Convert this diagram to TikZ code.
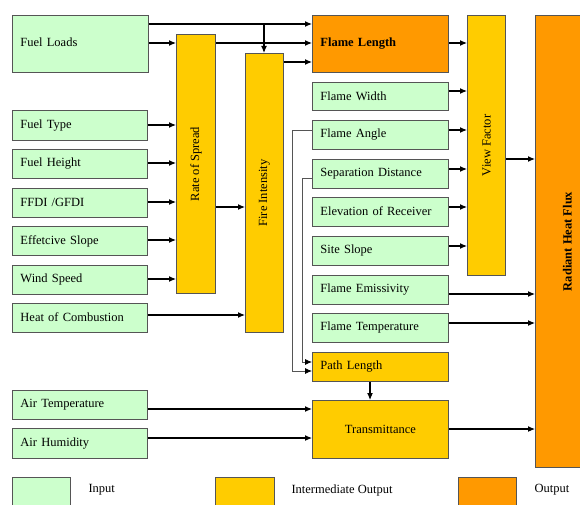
\documentclass[tikz,border=0pt]{standalone}
\usepackage{fontspec}
\setmainfont{Liberation Serif}
\usetikzlibrary{arrows.meta}
\definecolor{ingreen}{HTML}{CCFFCC}
\definecolor{midyel}{HTML}{FFCC00}
\definecolor{outor}{HTML}{FF9900}
\definecolor{edgegray}{HTML}{555555}
\tikzset{
  box/.style={draw=edgegray, line width=0.9pt, anchor=north west, inner sep=0pt,
    font=\fontsize{12.5}{14}\selectfont},
  inp/.style={box, fill=ingreen},
  mid/.style={box, fill=midyel},
  outp/.style={box, fill=outor},
  lbox/.style={align=left, inner xsep=8pt, text width=#1},
  arr/.style={line width=1.1pt, -{Latex[length=7pt,width=6pt]}},
  garr/.style={line width=0.8pt, draw=edgegray, -{Latex[length=7pt,width=6pt,fill=black,color=black]}},
  leg/.style={font=\fontsize{12.5}{14}\selectfont, anchor=west}
}
\begin{document}
\begin{tikzpicture}[x=1pt,y=-1pt]
\useasboundingbox (0,0) rectangle (580,505);
\clip (0,0) rectangle (580,505);
% left inputs
\node[inp, lbox=120pt, minimum height=57pt] (fl) at (12,15) {\raisebox{3pt}{Fuel Loads}};
\node[inp, lbox=119pt, minimum height=30pt] (ft) at (12,110) {\raisebox{1pt}{Fuel Type}};
\node[inp, lbox=119pt, minimum height=29pt] (fh) at (12,149) {\raisebox{1pt}{Fuel Height}};
\node[inp, lbox=119pt, minimum height=29pt] (ff) at (12,188) {\raisebox{1pt}{FFDI /GFDI}};
\node[inp, lbox=119pt, minimum height=29pt] (es) at (12,226) {\raisebox{1pt}{Effetcive Slope}};
\node[inp, lbox=119pt, minimum height=29pt] (ws) at (12,265) {\raisebox{1pt}{Wind Speed}};
\node[inp, lbox=119pt, minimum height=29pt] (hc) at (12,303) {\raisebox{1pt}{Heat of Combustion}};
\node[inp, lbox=119pt, minimum height=29pt] (at) at (12,390) {\raisebox{2pt}{Air Temperature}};
\node[inp, lbox=119pt, minimum height=30pt] (ah) at (12,428) {\raisebox{2pt}{Air Humidity}};
% intermediate columns
\node[mid, minimum width=39pt, minimum height=259pt] (ros) at (176,34) {};
\node[rotate=90, font=\fontsize{12.5}{14}\selectfont] at (ros.center) {Rate of Spread};
\node[mid, minimum width=38pt, minimum height=279pt] (fi) at (245,53) {};
\node[rotate=90, font=\fontsize{12.5}{14}\selectfont] at (fi.center) {Fire Intensity};
% middle column
\node[outp, lbox=120pt, minimum height=57pt, font=\fontsize{12.5}{14}\selectfont\bfseries] (flen) at (312,15) {Flame Length};
\node[inp, lbox=120pt, minimum height=28pt] (fw) at (312,82) {\raisebox{1pt}{Flame Width}};
\node[inp, lbox=120pt, minimum height=29pt] (fa) at (312,120) {\raisebox{1pt}{Flame Angle}};
\node[inp, lbox=120pt, minimum height=29pt] (sd) at (312,159) {\raisebox{1pt}{Separation Distance}};
\node[inp, lbox=120pt, minimum height=29pt] (er) at (312,197) {\raisebox{1pt}{Elevation of Receiver}};
\node[inp, lbox=120pt, minimum height=29pt] (ss) at (312,236) {\raisebox{1pt}{Site Slope}};
\node[inp, lbox=120pt, minimum height=29pt] (fe) at (312,275) {\raisebox{1pt}{Flame Emissivity}};
\node[inp, lbox=120pt, minimum height=29pt] (ftemp) at (312,313) {\raisebox{1pt}{Flame Temperature}};
\node[mid, lbox=120pt, minimum height=29pt] (pl) at (312,352) {\raisebox{1pt}{Path Length}};
\node[mid, minimum width=136pt, minimum height=58pt] (tr) at (312,400) {Transmittance};
% right columns
\node[mid, minimum width=38pt, minimum height=260pt] (vf) at (467,15) {};
\node[rotate=90, font=\fontsize{12.5}{14}\selectfont] at (vf.center) {View Factor};
\node[outp, minimum width=66pt, minimum height=452pt] (rhf) at (535,15) {};
\node[rotate=90, font=\fontsize{12.5}{14}\selectfont\bfseries] at ([xshift=-1pt]rhf.center) {Radiant Heat Flux};
% legend
\node[inp, minimum width=58pt, minimum height=35pt] (lg1) at (12,477) {};
\node[leg] (lt1) at (85,490) {Input};
\node[mid, minimum width=59pt, minimum height=35pt] (lg2) at (215,477) {};
\node[leg] (lt2) at (288,490) {Intermediate Output};
\node[outp, minimum width=58pt, minimum height=35pt] (lg3) at (458,477) {};
\node[leg] (lt3) at (531,490) {Output};
% connectors: fuel loads
\coordinate (br) at (264,24);
\draw[arr] (fl.east |- 0,24) -- (flen.west |- 0,24);
\draw[arr] (br) -- (br |- fi.north);
\draw[arr] (fl.east |- 0,43) -- (ros.west |- 0,43);
\draw[arr] (ros.east |- 0,43) -- (flen.west |- 0,43);
\draw[arr] (fi.east |- 0,62) -- (flen.west |- 0,62);
% inputs to rate of spread
\foreach \n/\y in {ft/125, fh/163, ff/202, es/240, ws/279}
  \draw[arr] (\n.east |- 0,\y) -- (ros.west |- 0,\y);
\draw[arr] (ros.east |- 0,207) -- (fi.west |- 0,207);
\draw[arr] (hc.east |- 0,315) -- (fi.west |- 0,315);
% to view factor
\foreach \n/\y in {flen/43, fw/91, fa/130, sd/169, er/207, ss/246}
  \draw[arr] (\n.east |- 0,\y) -- (vf.west |- 0,\y);
\draw[arr] (vf.east |- 0,159) -- (rhf.west |- 0,159);
\draw[arr] (fe.east |- 0,294) -- (rhf.west |- 0,294);
\draw[arr] (ftemp.east |- 0,323) -- (rhf.west |- 0,323);
\draw[arr] (tr.east |- 0,429) -- (rhf.west |- 0,429);
% path length and transmittance
\draw[arr] (pl.south -| 370,0) -- (tr.north -| 370,0);
\draw[arr] (at.east |- 0,409) -- (tr.west |- 0,409);
\draw[arr] (ah.east |- 0,438) -- (tr.west |- 0,438);
\draw[garr] (fa.west |- 0,130) -- (292,130) -- (292,371) -- (pl.west |- 0,371);
\draw[garr] (sd.west |- 0,178) -- (302,178) -- (302,362) -- (pl.west |- 0,362);
\end{tikzpicture}
\end{document}
